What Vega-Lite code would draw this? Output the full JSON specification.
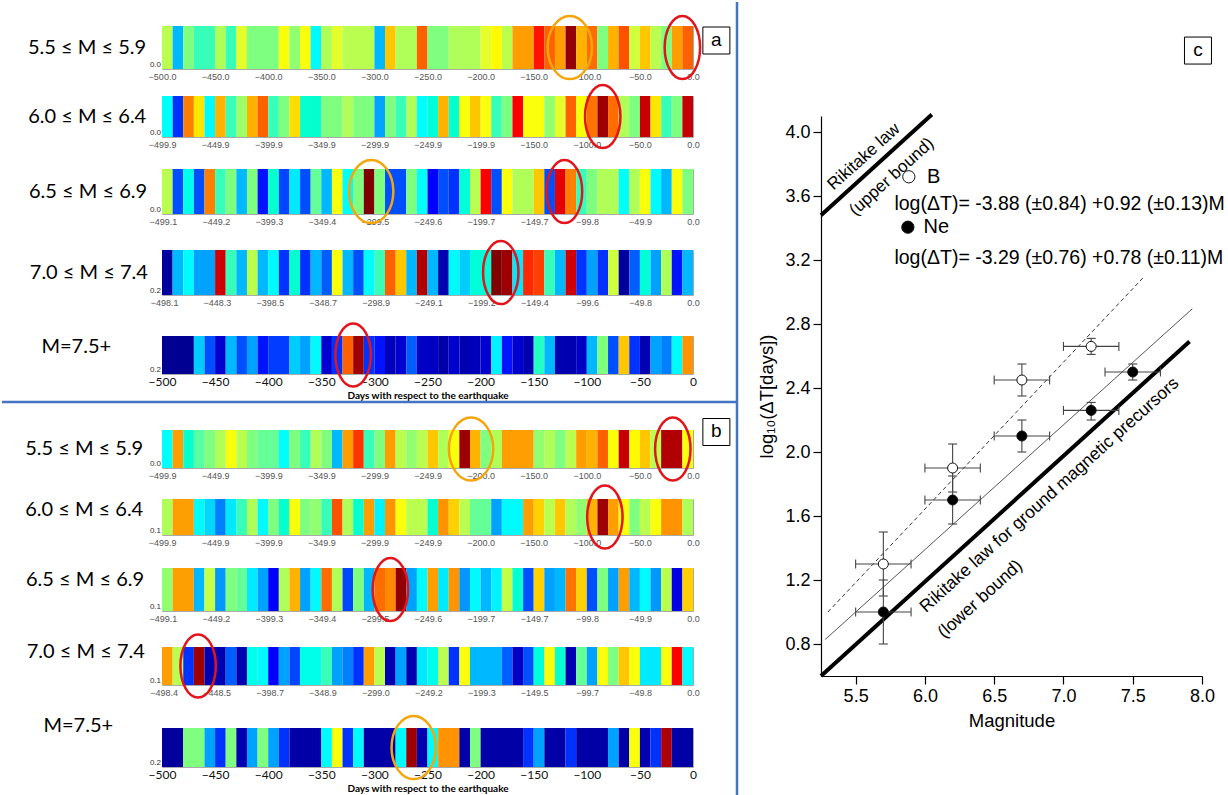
{
"$schema": "https://vega.github.io/schema/vega-lite/v6.json",
"padding": 0,
"autosize": {"type": "pad"},
"background": "white",
"config": {"view": {"stroke": null}, "font": "Liberation Sans", "axis": {"grid": false}},
"datasets": {
"one": [{}],
"cells": [
{"p":"a1","s":-500,"e":-490,"v":0.56},{"p":"a1","s":-490,"e":-480,"v":0.3},{"p":"a1","s":-480,"e":-470,"v":0.5},{"p":"a1","s":-470,"e":-450,"v":0.45},{"p":"a1","s":-450,"e":-440,"v":0.55},{"p":"a1","s":-440,"e":-430,"v":0.45},{"p":"a1","s":-430,"e":-420,"v":0.6},{"p":"a1","s":-420,"e":-390,"v":0.5},{"p":"a1","s":-390,"e":-380,"v":0.62},{"p":"a1","s":-380,"e":-370,"v":0.52},{"p":"a1","s":-370,"e":-360,"v":0.62},{"p":"a1","s":-360,"e":-350,"v":0.37},{"p":"a1","s":-350,"e":-340,"v":0.55},{"p":"a1","s":-340,"e":-330,"v":0.6},{"p":"a1","s":-330,"e":-300,"v":0.56},{"p":"a1","s":-300,"e":-290,"v":0.3},{"p":"a1","s":-290,"e":-280,"v":0.68},{"p":"a1","s":-280,"e":-260,"v":0.55},{"p":"a1","s":-260,"e":-250,"v":0.8},{"p":"a1","s":-250,"e":-230,"v":0.5},{"p":"a1","s":-230,"e":-200,"v":0.55},{"p":"a1","s":-200,"e":-190,"v":0.6},{"p":"a1","s":-190,"e":-180,"v":0.63},{"p":"a1","s":-180,"e":-170,"v":0.56},{"p":"a1","s":-170,"e":-150,"v":0.72},{"p":"a1","s":-150,"e":-140,"v":0.87},{"p":"a1","s":-140,"e":-130,"v":0.8},{"p":"a1","s":-130,"e":-120,"v":0.72},{"p":"a1","s":-120,"e":-110,"v":0.98},{"p":"a1","s":-110,"e":-100,"v":0.7},{"p":"a1","s":-100,"e":-90,"v":0.78},{"p":"a1","s":-90,"e":-80,"v":0.5},{"p":"a1","s":-80,"e":-70,"v":0.7},{"p":"a1","s":-70,"e":-60,"v":0.82},{"p":"a1","s":-60,"e":-50,"v":0.58},{"p":"a1","s":-50,"e":-40,"v":0.68},{"p":"a1","s":-40,"e":-30,"v":0.56},{"p":"a1","s":-30,"e":-20,"v":0.5},{"p":"a1","s":-20,"e":-10,"v":0.72},{"p":"a1","s":-10,"e":0,"v":0.8},
{"p":"a2","s":-500,"e":-490,"v":0.38},{"p":"a2","s":-490,"e":-480,"v":0.15},{"p":"a2","s":-480,"e":-470,"v":0.75},{"p":"a2","s":-470,"e":-460,"v":0.65},{"p":"a2","s":-460,"e":-450,"v":0.37},{"p":"a2","s":-450,"e":-440,"v":0.7},{"p":"a2","s":-440,"e":-430,"v":0.45},{"p":"a2","s":-430,"e":-420,"v":0.53},{"p":"a2","s":-420,"e":-410,"v":0.7},{"p":"a2","s":-410,"e":-400,"v":0.8},{"p":"a2","s":-400,"e":-390,"v":0.45},{"p":"a2","s":-390,"e":-380,"v":0.5},{"p":"a2","s":-380,"e":-370,"v":0.66},{"p":"a2","s":-370,"e":-350,"v":0.43},{"p":"a2","s":-350,"e":-330,"v":0.5},{"p":"a2","s":-330,"e":-320,"v":0.55},{"p":"a2","s":-320,"e":-300,"v":0.5},{"p":"a2","s":-300,"e":-290,"v":0.28},{"p":"a2","s":-290,"e":-280,"v":0.5},{"p":"a2","s":-280,"e":-270,"v":0.45},{"p":"a2","s":-270,"e":-260,"v":0.55},{"p":"a2","s":-260,"e":-250,"v":0.38},{"p":"a2","s":-250,"e":-240,"v":0.42},{"p":"a2","s":-240,"e":-230,"v":0.7},{"p":"a2","s":-230,"e":-220,"v":0.43},{"p":"a2","s":-220,"e":-210,"v":0.62},{"p":"a2","s":-210,"e":-200,"v":0.68},{"p":"a2","s":-200,"e":-190,"v":0.62},{"p":"a2","s":-190,"e":-180,"v":0.45},{"p":"a2","s":-180,"e":-170,"v":0.5},{"p":"a2","s":-170,"e":-160,"v":0.88},{"p":"a2","s":-160,"e":-140,"v":0.62},{"p":"a2","s":-140,"e":-130,"v":0.52},{"p":"a2","s":-130,"e":-120,"v":0.6},{"p":"a2","s":-120,"e":-110,"v":0.8},{"p":"a2","s":-110,"e":-100,"v":0.62},{"p":"a2","s":-100,"e":-90,"v":0.77},{"p":"a2","s":-90,"e":-80,"v":0.97},{"p":"a2","s":-80,"e":-70,"v":0.78},{"p":"a2","s":-70,"e":-60,"v":0.55},{"p":"a2","s":-60,"e":-50,"v":0.5},{"p":"a2","s":-50,"e":-40,"v":0.93},{"p":"a2","s":-40,"e":-30,"v":0.65},{"p":"a2","s":-30,"e":-20,"v":0.45},{"p":"a2","s":-20,"e":-10,"v":0.5},{"p":"a2","s":-10,"e":0,"v":0.93},
{"p":"a3","s":-500,"e":-490,"v":0.56},{"p":"a3","s":-490,"e":-480,"v":0.18},{"p":"a3","s":-480,"e":-470,"v":0.4},{"p":"a3","s":-470,"e":-460,"v":0.18},{"p":"a3","s":-460,"e":-450,"v":0.75},{"p":"a3","s":-450,"e":-440,"v":0.45},{"p":"a3","s":-440,"e":-430,"v":0.5},{"p":"a3","s":-430,"e":-420,"v":0.3},{"p":"a3","s":-420,"e":-410,"v":0.5},{"p":"a3","s":-410,"e":-400,"v":0.13},{"p":"a3","s":-400,"e":-390,"v":0.43},{"p":"a3","s":-390,"e":-380,"v":0.17},{"p":"a3","s":-380,"e":-370,"v":0.35},{"p":"a3","s":-370,"e":-360,"v":0.18},{"p":"a3","s":-360,"e":-350,"v":0.48},{"p":"a3","s":-350,"e":-340,"v":0.3},{"p":"a3","s":-340,"e":-330,"v":0.62},{"p":"a3","s":-330,"e":-320,"v":0.38},{"p":"a3","s":-320,"e":-310,"v":0.5},{"p":"a3","s":-310,"e":-300,"v":1},{"p":"a3","s":-300,"e":-290,"v":0.5},{"p":"a3","s":-290,"e":-270,"v":0.18},{"p":"a3","s":-270,"e":-260,"v":0.5},{"p":"a3","s":-260,"e":-250,"v":0.38},{"p":"a3","s":-250,"e":-240,"v":0.12},{"p":"a3","s":-240,"e":-230,"v":0.18},{"p":"a3","s":-230,"e":-220,"v":0.15},{"p":"a3","s":-220,"e":-210,"v":0.42},{"p":"a3","s":-210,"e":-200,"v":0.56},{"p":"a3","s":-200,"e":-190,"v":0.88},{"p":"a3","s":-190,"e":-180,"v":0.18},{"p":"a3","s":-180,"e":-170,"v":0.62},{"p":"a3","s":-170,"e":-150,"v":0.55},{"p":"a3","s":-150,"e":-140,"v":0.68},{"p":"a3","s":-140,"e":-130,"v":0.18},{"p":"a3","s":-130,"e":-120,"v":0.9},{"p":"a3","s":-120,"e":-110,"v":0.75},{"p":"a3","s":-110,"e":-100,"v":0.45},{"p":"a3","s":-100,"e":-90,"v":0.5},{"p":"a3","s":-90,"e":-70,"v":0.55},{"p":"a3","s":-70,"e":-60,"v":0.38},{"p":"a3","s":-60,"e":-50,"v":0.55},{"p":"a3","s":-50,"e":-40,"v":0.62},{"p":"a3","s":-40,"e":-30,"v":0.37},{"p":"a3","s":-30,"e":-20,"v":0.3},{"p":"a3","s":-20,"e":-10,"v":0.62},{"p":"a3","s":-10,"e":0,"v":0.5},
{"p":"a4","s":-500,"e":-490,"v":0.03},{"p":"a4","s":-490,"e":-480,"v":0.3},{"p":"a4","s":-480,"e":-470,"v":0.37},{"p":"a4","s":-470,"e":-450,"v":0.28},{"p":"a4","s":-450,"e":-440,"v":0.92},{"p":"a4","s":-440,"e":-430,"v":0.45},{"p":"a4","s":-430,"e":-420,"v":0.3},{"p":"a4","s":-420,"e":-410,"v":0.56},{"p":"a4","s":-410,"e":-400,"v":0.3},{"p":"a4","s":-400,"e":-390,"v":0.37},{"p":"a4","s":-390,"e":-380,"v":0.15},{"p":"a4","s":-380,"e":-370,"v":0.43},{"p":"a4","s":-370,"e":-360,"v":0.15},{"p":"a4","s":-360,"e":-350,"v":0.3},{"p":"a4","s":-350,"e":-340,"v":0.2},{"p":"a4","s":-340,"e":-330,"v":0.62},{"p":"a4","s":-330,"e":-320,"v":0.3},{"p":"a4","s":-320,"e":-310,"v":0.18},{"p":"a4","s":-310,"e":-300,"v":0.37},{"p":"a4","s":-300,"e":-290,"v":0.45},{"p":"a4","s":-290,"e":-280,"v":0.8},{"p":"a4","s":-280,"e":-270,"v":0.68},{"p":"a4","s":-270,"e":-260,"v":0.3},{"p":"a4","s":-260,"e":-250,"v":0.95},{"p":"a4","s":-250,"e":-240,"v":0.3},{"p":"a4","s":-240,"e":-230,"v":0.05},{"p":"a4","s":-230,"e":-220,"v":0.37},{"p":"a4","s":-220,"e":-210,"v":0.32},{"p":"a4","s":-210,"e":-190,"v":0.42},{"p":"a4","s":-190,"e":-180,"v":1},{"p":"a4","s":-180,"e":-170,"v":0.97},{"p":"a4","s":-170,"e":-160,"v":0.35},{"p":"a4","s":-160,"e":-150,"v":0.86},{"p":"a4","s":-150,"e":-140,"v":0.84},{"p":"a4","s":-140,"e":-130,"v":0.45},{"p":"a4","s":-130,"e":-120,"v":0.3},{"p":"a4","s":-120,"e":-110,"v":0.92},{"p":"a4","s":-110,"e":-100,"v":0.15},{"p":"a4","s":-100,"e":-90,"v":0.28},{"p":"a4","s":-90,"e":-80,"v":0.15},{"p":"a4","s":-80,"e":-70,"v":0.58},{"p":"a4","s":-70,"e":-60,"v":0.03},{"p":"a4","s":-60,"e":-50,"v":0.2},{"p":"a4","s":-50,"e":-40,"v":0.42},{"p":"a4","s":-40,"e":-30,"v":0.28},{"p":"a4","s":-30,"e":-20,"v":0.55},{"p":"a4","s":-20,"e":-10,"v":0.13},{"p":"a4","s":-10,"e":0,"v":0.3},
{"p":"a5","s":-500,"e":-470,"v":0.02},{"p":"a5","s":-470,"e":-460,"v":0.32},{"p":"a5","s":-460,"e":-450,"v":0.18},{"p":"a5","s":-450,"e":-440,"v":0.08},{"p":"a5","s":-440,"e":-430,"v":0.3},{"p":"a5","s":-430,"e":-420,"v":0.18},{"p":"a5","s":-420,"e":-410,"v":0.28},{"p":"a5","s":-410,"e":-400,"v":0.13},{"p":"a5","s":-400,"e":-380,"v":0.16},{"p":"a5","s":-380,"e":-370,"v":0.32},{"p":"a5","s":-370,"e":-360,"v":0.28},{"p":"a5","s":-360,"e":-350,"v":0.37},{"p":"a5","s":-350,"e":-340,"v":0.08},{"p":"a5","s":-340,"e":-330,"v":0.15},{"p":"a5","s":-330,"e":-320,"v":0.8},{"p":"a5","s":-320,"e":-310,"v":0.97},{"p":"a5","s":-310,"e":-300,"v":0.15},{"p":"a5","s":-300,"e":-290,"v":0.13},{"p":"a5","s":-290,"e":-280,"v":0.06},{"p":"a5","s":-280,"e":-270,"v":0.08},{"p":"a5","s":-270,"e":-260,"v":0.2},{"p":"a5","s":-260,"e":-240,"v":0.07},{"p":"a5","s":-240,"e":-230,"v":0.04},{"p":"a5","s":-230,"e":-220,"v":0.08},{"p":"a5","s":-220,"e":-210,"v":0.05},{"p":"a5","s":-210,"e":-200,"v":0.06},{"p":"a5","s":-200,"e":-190,"v":0.08},{"p":"a5","s":-190,"e":-180,"v":0.36},{"p":"a5","s":-180,"e":-170,"v":0.13},{"p":"a5","s":-170,"e":-160,"v":0.08},{"p":"a5","s":-160,"e":-150,"v":0.05},{"p":"a5","s":-150,"e":-140,"v":0.44},{"p":"a5","s":-140,"e":-130,"v":0.3},{"p":"a5","s":-130,"e":-110,"v":0.05},{"p":"a5","s":-110,"e":-100,"v":0.07},{"p":"a5","s":-100,"e":-90,"v":0.3},{"p":"a5","s":-90,"e":-80,"v":0.5},{"p":"a5","s":-80,"e":-70,"v":0.18},{"p":"a5","s":-70,"e":-60,"v":0.68},{"p":"a5","s":-60,"e":-50,"v":0.15},{"p":"a5","s":-50,"e":-40,"v":0.05},{"p":"a5","s":-40,"e":-30,"v":0.28},{"p":"a5","s":-30,"e":-20,"v":0.25},{"p":"a5","s":-20,"e":-10,"v":0.37},{"p":"a5","s":-10,"e":0,"v":0.73},
{"p":"b1","s":-500,"e":-490,"v":0.38},{"p":"b1","s":-490,"e":-480,"v":0.72},{"p":"b1","s":-480,"e":-470,"v":0.43},{"p":"b1","s":-470,"e":-460,"v":0.47},{"p":"b1","s":-460,"e":-450,"v":0.5},{"p":"b1","s":-450,"e":-440,"v":0.55},{"p":"b1","s":-440,"e":-430,"v":0.62},{"p":"b1","s":-430,"e":-420,"v":0.56},{"p":"b1","s":-420,"e":-410,"v":0.5},{"p":"b1","s":-410,"e":-390,"v":0.48},{"p":"b1","s":-390,"e":-380,"v":0.38},{"p":"b1","s":-380,"e":-370,"v":0.5},{"p":"b1","s":-370,"e":-360,"v":0.45},{"p":"b1","s":-360,"e":-350,"v":0.55},{"p":"b1","s":-350,"e":-340,"v":0.5},{"p":"b1","s":-340,"e":-330,"v":0.3},{"p":"b1","s":-330,"e":-320,"v":0.72},{"p":"b1","s":-320,"e":-310,"v":0.85},{"p":"b1","s":-310,"e":-300,"v":0.45},{"p":"b1","s":-300,"e":-290,"v":0.5},{"p":"b1","s":-290,"e":-280,"v":0.72},{"p":"b1","s":-280,"e":-270,"v":0.56},{"p":"b1","s":-270,"e":-260,"v":0.52},{"p":"b1","s":-260,"e":-250,"v":0.56},{"p":"b1","s":-250,"e":-240,"v":0.68},{"p":"b1","s":-240,"e":-230,"v":0.55},{"p":"b1","s":-230,"e":-220,"v":0.62},{"p":"b1","s":-220,"e":-210,"v":0.97},{"p":"b1","s":-210,"e":-200,"v":0.7},{"p":"b1","s":-200,"e":-190,"v":0.5},{"p":"b1","s":-190,"e":-180,"v":0.55},{"p":"b1","s":-180,"e":-150,"v":0.72},{"p":"b1","s":-150,"e":-140,"v":0.52},{"p":"b1","s":-140,"e":-130,"v":0.55},{"p":"b1","s":-130,"e":-120,"v":0.5},{"p":"b1","s":-120,"e":-110,"v":0.56},{"p":"b1","s":-110,"e":-100,"v":0.72},{"p":"b1","s":-100,"e":-90,"v":0.7},{"p":"b1","s":-90,"e":-80,"v":0.8},{"p":"b1","s":-80,"e":-70,"v":0.62},{"p":"b1","s":-70,"e":-60,"v":0.93},{"p":"b1","s":-60,"e":-50,"v":0.63},{"p":"b1","s":-50,"e":-40,"v":0.68},{"p":"b1","s":-40,"e":-30,"v":0.56},{"p":"b1","s":-30,"e":-10,"v":0.95},{"p":"b1","s":-10,"e":0,"v":0.62},
{"p":"b2","s":-500,"e":-490,"v":0.55},{"p":"b2","s":-490,"e":-470,"v":0.72},{"p":"b2","s":-470,"e":-460,"v":0.37},{"p":"b2","s":-460,"e":-450,"v":0.33},{"p":"b2","s":-450,"e":-440,"v":0.25},{"p":"b2","s":-440,"e":-430,"v":0.35},{"p":"b2","s":-430,"e":-420,"v":0.45},{"p":"b2","s":-420,"e":-410,"v":0.55},{"p":"b2","s":-410,"e":-400,"v":0.37},{"p":"b2","s":-400,"e":-390,"v":0.5},{"p":"b2","s":-390,"e":-380,"v":0.43},{"p":"b2","s":-380,"e":-370,"v":0.62},{"p":"b2","s":-370,"e":-360,"v":0.5},{"p":"b2","s":-360,"e":-350,"v":0.52},{"p":"b2","s":-350,"e":-340,"v":0.45},{"p":"b2","s":-340,"e":-330,"v":0.82},{"p":"b2","s":-330,"e":-320,"v":0.55},{"p":"b2","s":-320,"e":-310,"v":0.43},{"p":"b2","s":-310,"e":-300,"v":0.72},{"p":"b2","s":-300,"e":-290,"v":0.36},{"p":"b2","s":-290,"e":-280,"v":0.73},{"p":"b2","s":-280,"e":-270,"v":0.62},{"p":"b2","s":-270,"e":-250,"v":0.56},{"p":"b2","s":-250,"e":-240,"v":0.43},{"p":"b2","s":-240,"e":-230,"v":0.73},{"p":"b2","s":-230,"e":-220,"v":0.67},{"p":"b2","s":-220,"e":-210,"v":0.56},{"p":"b2","s":-210,"e":-190,"v":0.48},{"p":"b2","s":-190,"e":-180,"v":0.28},{"p":"b2","s":-180,"e":-160,"v":0.37},{"p":"b2","s":-160,"e":-150,"v":0.72},{"p":"b2","s":-150,"e":-140,"v":0.67},{"p":"b2","s":-140,"e":-130,"v":0.56},{"p":"b2","s":-130,"e":-120,"v":0.68},{"p":"b2","s":-120,"e":-110,"v":0.55},{"p":"b2","s":-110,"e":-100,"v":0.52},{"p":"b2","s":-100,"e":-90,"v":0.7},{"p":"b2","s":-90,"e":-80,"v":0.97},{"p":"b2","s":-80,"e":-70,"v":0.72},{"p":"b2","s":-70,"e":-60,"v":0.62},{"p":"b2","s":-60,"e":-50,"v":0.5},{"p":"b2","s":-50,"e":-40,"v":0.56},{"p":"b2","s":-40,"e":-30,"v":0.62},{"p":"b2","s":-30,"e":-10,"v":0.73},{"p":"b2","s":-10,"e":0,"v":0.55},
{"p":"b3","s":-500,"e":-490,"v":0.52},{"p":"b3","s":-490,"e":-470,"v":0.72},{"p":"b3","s":-470,"e":-460,"v":0.3},{"p":"b3","s":-460,"e":-450,"v":0.57},{"p":"b3","s":-450,"e":-440,"v":0.27},{"p":"b3","s":-440,"e":-430,"v":0.5},{"p":"b3","s":-430,"e":-420,"v":0.48},{"p":"b3","s":-420,"e":-410,"v":0.35},{"p":"b3","s":-410,"e":-400,"v":0.28},{"p":"b3","s":-400,"e":-390,"v":0.12},{"p":"b3","s":-390,"e":-380,"v":0.55},{"p":"b3","s":-380,"e":-370,"v":0.7},{"p":"b3","s":-370,"e":-360,"v":0.28},{"p":"b3","s":-360,"e":-350,"v":0.37},{"p":"b3","s":-350,"e":-340,"v":0.78},{"p":"b3","s":-340,"e":-330,"v":0.55},{"p":"b3","s":-330,"e":-320,"v":0.17},{"p":"b3","s":-320,"e":-310,"v":0.5},{"p":"b3","s":-310,"e":-300,"v":0.3},{"p":"b3","s":-300,"e":-290,"v":0.78},{"p":"b3","s":-290,"e":-280,"v":0.74},{"p":"b3","s":-280,"e":-270,"v":0.98},{"p":"b3","s":-270,"e":-260,"v":0.28},{"p":"b3","s":-260,"e":-250,"v":0.37},{"p":"b3","s":-250,"e":-240,"v":0.72},{"p":"b3","s":-240,"e":-230,"v":0.35},{"p":"b3","s":-230,"e":-220,"v":0.73},{"p":"b3","s":-220,"e":-210,"v":0.27},{"p":"b3","s":-210,"e":-200,"v":0.37},{"p":"b3","s":-200,"e":-190,"v":0.3},{"p":"b3","s":-190,"e":-180,"v":0.36},{"p":"b3","s":-180,"e":-170,"v":0.57},{"p":"b3","s":-170,"e":-160,"v":0.43},{"p":"b3","s":-160,"e":-150,"v":0.18},{"p":"b3","s":-150,"e":-140,"v":0.67},{"p":"b3","s":-140,"e":-130,"v":0.28},{"p":"b3","s":-130,"e":-120,"v":0.3},{"p":"b3","s":-120,"e":-110,"v":0.77},{"p":"b3","s":-110,"e":-100,"v":0.67},{"p":"b3","s":-100,"e":-90,"v":0.18},{"p":"b3","s":-90,"e":-80,"v":0.5},{"p":"b3","s":-80,"e":-70,"v":0.28},{"p":"b3","s":-70,"e":-60,"v":0.72},{"p":"b3","s":-60,"e":-50,"v":0.3},{"p":"b3","s":-50,"e":-40,"v":0.37},{"p":"b3","s":-40,"e":-30,"v":0.27},{"p":"b3","s":-30,"e":-20,"v":0.56},{"p":"b3","s":-20,"e":-10,"v":0.1},{"p":"b3","s":-10,"e":0,"v":0.67},
{"p":"b4","s":-500,"e":-490,"v":0.72},{"p":"b4","s":-490,"e":-480,"v":0.56},{"p":"b4","s":-480,"e":-470,"v":0.15},{"p":"b4","s":-470,"e":-460,"v":0.97},{"p":"b4","s":-460,"e":-440,"v":0.05},{"p":"b4","s":-440,"e":-430,"v":0.2},{"p":"b4","s":-430,"e":-420,"v":0.05},{"p":"b4","s":-420,"e":-410,"v":0.4},{"p":"b4","s":-410,"e":-400,"v":0.37},{"p":"b4","s":-400,"e":-390,"v":0.12},{"p":"b4","s":-390,"e":-380,"v":0.28},{"p":"b4","s":-380,"e":-370,"v":0.17},{"p":"b4","s":-370,"e":-350,"v":0.4},{"p":"b4","s":-350,"e":-340,"v":0.45},{"p":"b4","s":-340,"e":-330,"v":0.28},{"p":"b4","s":-330,"e":-320,"v":0.25},{"p":"b4","s":-320,"e":-310,"v":0.15},{"p":"b4","s":-310,"e":-300,"v":0.72},{"p":"b4","s":-300,"e":-290,"v":0.56},{"p":"b4","s":-290,"e":-280,"v":0.05},{"p":"b4","s":-280,"e":-270,"v":0.28},{"p":"b4","s":-270,"e":-260,"v":0.05},{"p":"b4","s":-260,"e":-250,"v":0.35},{"p":"b4","s":-250,"e":-240,"v":0.4},{"p":"b4","s":-240,"e":-230,"v":0.56},{"p":"b4","s":-230,"e":-220,"v":0.15},{"p":"b4","s":-220,"e":-210,"v":0.62},{"p":"b4","s":-210,"e":-180,"v":0.3},{"p":"b4","s":-180,"e":-170,"v":0.2},{"p":"b4","s":-170,"e":-160,"v":0.07},{"p":"b4","s":-160,"e":-150,"v":0.18},{"p":"b4","s":-150,"e":-140,"v":0.42},{"p":"b4","s":-140,"e":-130,"v":0.62},{"p":"b4","s":-130,"e":-120,"v":0.43},{"p":"b4","s":-120,"e":-110,"v":0.05},{"p":"b4","s":-110,"e":-100,"v":0.48},{"p":"b4","s":-100,"e":-90,"v":0.28},{"p":"b4","s":-90,"e":-80,"v":0.62},{"p":"b4","s":-80,"e":-70,"v":0.5},{"p":"b4","s":-70,"e":-60,"v":0.68},{"p":"b4","s":-60,"e":-50,"v":0.62},{"p":"b4","s":-50,"e":-30,"v":0.35},{"p":"b4","s":-30,"e":-20,"v":0.62},{"p":"b4","s":-20,"e":-10,"v":0.88},{"p":"b4","s":-10,"e":0,"v":0.37},
{"p":"b5","s":-500,"e":-480,"v":0.03},{"p":"b5","s":-480,"e":-460,"v":0.5},{"p":"b5","s":-460,"e":-450,"v":0.28},{"p":"b5","s":-450,"e":-440,"v":0.15},{"p":"b5","s":-440,"e":-430,"v":0.5},{"p":"b5","s":-430,"e":-420,"v":0.05},{"p":"b5","s":-420,"e":-410,"v":0.28},{"p":"b5","s":-410,"e":-400,"v":0.5},{"p":"b5","s":-400,"e":-390,"v":0.28},{"p":"b5","s":-390,"e":-380,"v":0.15},{"p":"b5","s":-380,"e":-350,"v":0.04},{"p":"b5","s":-350,"e":-340,"v":0.37},{"p":"b5","s":-340,"e":-330,"v":0.62},{"p":"b5","s":-330,"e":-320,"v":0.15},{"p":"b5","s":-320,"e":-310,"v":0.37},{"p":"b5","s":-310,"e":-280,"v":0.04},{"p":"b5","s":-280,"e":-270,"v":0.37},{"p":"b5","s":-270,"e":-260,"v":0.97},{"p":"b5","s":-260,"e":-250,"v":0.05},{"p":"b5","s":-250,"e":-240,"v":0.37},{"p":"b5","s":-240,"e":-220,"v":0.73},{"p":"b5","s":-220,"e":-210,"v":0.04},{"p":"b5","s":-210,"e":-200,"v":0.5},{"p":"b5","s":-200,"e":-160,"v":0.04},{"p":"b5","s":-160,"e":-150,"v":0.15},{"p":"b5","s":-150,"e":-140,"v":0.28},{"p":"b5","s":-140,"e":-120,"v":0.04},{"p":"b5","s":-120,"e":-110,"v":0.15},{"p":"b5","s":-110,"e":-80,"v":0.04},{"p":"b5","s":-80,"e":-70,"v":0.28},{"p":"b5","s":-70,"e":-60,"v":0.04},{"p":"b5","s":-60,"e":-50,"v":0.62},{"p":"b5","s":-50,"e":-40,"v":0.05},{"p":"b5","s":-40,"e":-30,"v":0.15},{"p":"b5","s":-30,"e":-20,"v":0.95},{"p":"b5","s":-20,"e":0,"v":0.04}
],
"rings": [
{"p":"a1","d":-116,"ring":"orange"},{"p":"a1","d":-10,"ring":"red"},{"p":"a2","d":-85,"ring":"red"},{"p":"a3","d":-303,"ring":"orange"},{"p":"a3","d":-121,"ring":"red"},{"p":"a4","d":-181,"ring":"red"},{"p":"a5","d":-320,"ring":"red"},{"p":"b1","d":-209,"ring":"orange"},{"p":"b1","d":-19,"ring":"red"},{"p":"b2","d":-83,"ring":"red"},{"p":"b3","d":-285,"ring":"red"},{"p":"b4","d":-466,"ring":"red"},{"p":"b5","d":-263,"ring":"orange"}
],
"pts": [
{"s":"B","M":5.7,"y":1.3,"xl":5.5,"xh":5.9,"yl":1.1,"yh":1.5},
{"s":"B","M":6.2,"y":1.9,"xl":6.0,"xh":6.4,"yl":1.75,"yh":2.05},
{"s":"B","M":6.7,"y":2.45,"xl":6.5,"xh":6.9,"yl":2.35,"yh":2.55},
{"s":"B","M":7.2,"y":2.66,"xl":7.0,"xh":7.4,"yl":2.61,"yh":2.71},
{"s":"Ne","M":5.7,"y":1.0,"xl":5.5,"xh":5.9,"yl":0.8,"yh":1.2},
{"s":"Ne","M":6.2,"y":1.7,"xl":6.0,"xh":6.4,"yl":1.55,"yh":1.85},
{"s":"Ne","M":6.7,"y":2.1,"xl":6.5,"xh":6.9,"yl":2.0,"yh":2.2},
{"s":"Ne","M":7.2,"y":2.26,"xl":7.0,"xh":7.4,"yl":2.2,"yh":2.31},
{"s":"Ne","M":7.5,"y":2.5,"xl":7.3,"xh":7.7,"yl":2.45,"yh":2.55}
],
"fits": [
{"g":"B","M":5.3,"y":1.0},{"g":"B","M":7.58,"y":3.094},
{"g":"Ne","M":5.28,"y":0.828},{"g":"Ne","M":7.93,"y":2.895},
{"g":"upper","M":5.25,"y":3.48},{"g":"upper","M":6.05,"y":4.11},
{"g":"lower","M":5.25,"y":0.6},{"g":"lower","M":7.91,"y":2.69}
]
},
"hconcat": [
{
"vconcat": [
{"width": 531, "height": 43, "view": {"stroke": "#aaaaaa"},
 "title": {"text": "5.5 ≤ M ≤ 5.9", "orient": "left", "angle": 0, "align": "left", "baseline": "middle", "anchor": "middle", "frame": "group", "offset": 2, "fontSize": 20, "font": "Lato", "fontWeight": "normal", "color": "black"},
 "layer": [
  {"data": {"name": "cells"}, "transform": [{"filter": "datum.p == 'a1'"}], "mark": {"type": "rect"},
   "encoding": {"x": {"field": "s", "type": "quantitative", "scale": {"domain": [-500, 0], "nice": false, "zero": false},
     "axis": {"values": [-500,-450,-400,-350,-300,-250,-200,-150,-100,-50,0], "format": ".1f", "title": null, "labelFontSize": 9, "labelColor": "#555", "ticks": false, "domain": false, "labelPadding": 3, "labelFlush": false, "labelOverlap": false}},
    "x2": {"field": "e"},
    "color": {"field": "v", "type": "quantitative", "scale": {"type": "linear", "domain": [0,0.125,0.25,0.375,0.5,0.625,0.75,0.875,1], "range": ["#00007f","#0000ff","#007fff","#00ffff","#7fff7f","#ffff00","#ff7f00","#ff0000","#7f0000"]}, "legend": null}}},
  {"data": {"name": "rings"}, "transform": [{"filter": "datum.p == 'a1'"}], "mark": {"type": "point", "filled": false, "size": 4000, "strokeWidth": 2.5, "opacity": 1},
   "encoding": {"x": {"field": "d", "type": "quantitative"},
    "shape": {"field": "ring", "type": "nominal", "scale": {"domain": ["orange","red"], "range": ["M0,-1A0.7,1,0,1,1,0,1A0.7,1,0,1,1,0,-1Z","M0,-1A0.56,1,0,1,1,0,1A0.56,1,0,1,1,0,-1Z"]}, "legend": null},
    "stroke": {"field": "ring", "type": "nominal", "scale": {"domain": ["orange","red"], "range": ["#F5A50A","#E3141C"]}, "legend": null}}},
  {"data": {"name": "one"}, "mark": {"type": "text", "text": "0.0", "fontSize": 8, "align": "right", "baseline": "bottom", "dx": -1, "yOffset": 21.5, "color": "#333333"}, "encoding": {"x": {"datum": -500}}},
  {"data": {"name": "one"}, "mark": {"type": "square", "size": 729, "fill": "white", "stroke": "black", "strokeWidth": 1, "opacity": 1, "yOffset": -7}, "encoding": {"x": {"datum": 22}}},
  {"data": {"name": "one"}, "mark": {"type": "text", "text": "a", "fontSize": 19, "color": "black", "yOffset": -8}, "encoding": {"x": {"datum": 22}}}
 ]},
{"width": 531, "height": 27, "data": {"name": "one"}, "mark": {"type": "text"}, "encoding": {}},
{"width": 531, "height": 41, "view": {"stroke": "#aaaaaa"},
 "title": {"text": "6.0 ≤ M ≤ 6.4", "orient": "left", "angle": 0, "align": "left", "baseline": "middle", "anchor": "middle", "frame": "group", "offset": 2, "fontSize": 20, "font": "Lato", "fontWeight": "normal", "color": "black"},
 "layer": [
  {"data": {"name": "cells"}, "transform": [{"filter": "datum.p == 'a2'"}], "mark": {"type": "rect"},
   "encoding": {"x": {"field": "s", "type": "quantitative", "scale": {"domain": [-500, 0], "nice": false, "zero": false},
     "axis": {"values": [-499.9,-449.9,-399.9,-349.9,-299.9,-249.9,-199.9,-150,-100,-50,0], "format": ".1f", "title": null, "labelFontSize": 9, "labelColor": "#555", "ticks": false, "domain": false, "labelPadding": 3, "labelFlush": false, "labelOverlap": false}},
    "x2": {"field": "e"},
    "color": {"field": "v", "type": "quantitative", "legend": null}}},
  {"data": {"name": "rings"}, "transform": [{"filter": "datum.p == 'a2'"}], "mark": {"type": "point", "filled": false, "size": 4000, "strokeWidth": 2.5, "opacity": 1},
   "encoding": {"x": {"field": "d", "type": "quantitative"}, "shape": {"field": "ring", "type": "nominal", "legend": null}, "stroke": {"field": "ring", "type": "nominal", "legend": null}}},
  {"data": {"name": "one"}, "mark": {"type": "text", "text": "0.0", "fontSize": 8, "align": "right", "baseline": "bottom", "dx": -1, "yOffset": 20.5, "color": "#333333"}, "encoding": {"x": {"datum": -500}}}
 ]},
{"width": 531, "height": 32, "data": {"name": "one"}, "mark": {"type": "text"}, "encoding": {}},
{"width": 531, "height": 45, "view": {"stroke": "#aaaaaa"},
 "title": {"text": "6.5 ≤ M ≤ 6.9", "orient": "left", "angle": 0, "align": "left", "baseline": "middle", "anchor": "middle", "frame": "group", "offset": 2, "fontSize": 20, "font": "Lato", "fontWeight": "normal", "color": "black"},
 "layer": [
  {"data": {"name": "cells"}, "transform": [{"filter": "datum.p == 'a3'"}], "mark": {"type": "rect"},
   "encoding": {"x": {"field": "s", "type": "quantitative", "scale": {"domain": [-500, 0], "nice": false, "zero": false},
     "axis": {"values": [-499.1,-449.2,-399.3,-349.4,-299.5,-249.6,-199.7,-149.7,-99.8,-49.9,0], "format": ".1f", "title": null, "labelFontSize": 9, "labelColor": "#555", "ticks": false, "domain": false, "labelPadding": 3, "labelFlush": false, "labelOverlap": false}},
    "x2": {"field": "e"},
    "color": {"field": "v", "type": "quantitative", "legend": null}}},
  {"data": {"name": "rings"}, "transform": [{"filter": "datum.p == 'a3'"}], "mark": {"type": "point", "filled": false, "size": 4000, "strokeWidth": 2.5, "opacity": 1},
   "encoding": {"x": {"field": "d", "type": "quantitative"}, "shape": {"field": "ring", "type": "nominal", "legend": null}, "stroke": {"field": "ring", "type": "nominal", "legend": null}}},
  {"data": {"name": "one"}, "mark": {"type": "text", "text": "0.0", "fontSize": 8, "align": "right", "baseline": "bottom", "dx": -1, "yOffset": 22.5, "color": "#333333"}, "encoding": {"x": {"datum": -500}}}
 ]},
{"width": 531, "height": 36, "data": {"name": "one"}, "mark": {"type": "text"}, "encoding": {}},
{"width": 531, "height": 45, "view": {"stroke": "#aaaaaa"},
 "title": {"text": "7.0 ≤ M ≤ 7.4", "orient": "left", "angle": 0, "align": "left", "baseline": "middle", "anchor": "middle", "frame": "group", "offset": 2, "fontSize": 20, "font": "Lato", "fontWeight": "normal", "color": "black"},
 "layer": [
  {"data": {"name": "cells"}, "transform": [{"filter": "datum.p == 'a4'"}], "mark": {"type": "rect"},
   "encoding": {"x": {"field": "s", "type": "quantitative", "scale": {"domain": [-500, 0], "nice": false, "zero": false},
     "axis": {"values": [-498.1,-448.3,-398.5,-348.7,-298.9,-249.1,-199.2,-149.4,-99.6,-49.8,0], "format": ".1f", "title": null, "labelFontSize": 9, "labelColor": "#555", "ticks": false, "domain": false, "labelPadding": 3, "labelFlush": false, "labelOverlap": false}},
    "x2": {"field": "e"},
    "color": {"field": "v", "type": "quantitative", "legend": null}}},
  {"data": {"name": "rings"}, "transform": [{"filter": "datum.p == 'a4'"}], "mark": {"type": "point", "filled": false, "size": 4000, "strokeWidth": 2.5, "opacity": 1},
   "encoding": {"x": {"field": "d", "type": "quantitative"}, "shape": {"field": "ring", "type": "nominal", "legend": null}, "stroke": {"field": "ring", "type": "nominal", "legend": null}}},
  {"data": {"name": "one"}, "mark": {"type": "text", "text": "0.2", "fontSize": 8, "align": "right", "baseline": "bottom", "dx": -1, "yOffset": 22.5, "color": "#333333"}, "encoding": {"x": {"datum": -500}}}
 ]},
{"width": 531, "height": 41, "data": {"name": "one"}, "mark": {"type": "text"}, "encoding": {}},
{"width": 531, "height": 38, "view": {"stroke": "#aaaaaa"},
 "title": {"text": "M=7.5+", "orient": "left", "angle": 0, "align": "left", "baseline": "middle", "anchor": "middle", "frame": "group", "offset": 37, "dy": -8, "fontSize": 20, "font": "Lato", "fontWeight": "normal", "color": "black"},
 "layer": [
  {"data": {"name": "cells"}, "transform": [{"filter": "datum.p == 'a5'"}], "mark": {"type": "rect"},
   "encoding": {"x": {"field": "s", "type": "quantitative", "scale": {"domain": [-500, 0], "nice": false, "zero": false},
     "axis": {"values": [-500,-450,-400,-350,-300,-250,-200,-150,-100,-50,0], "format": "d", "title": "Days with respect to the earthquake", "titleFont": "Lato", "titleFontSize": 10, "titleFontWeight": "bold", "titleColor": "black", "titlePadding": 3, "labelFont": "Lato", "labelFontSize": 12, "labelColor": "#111", "ticks": false, "domain": false, "labelPadding": 2, "labelFlush": false, "labelOverlap": false}},
    "x2": {"field": "e"},
    "color": {"field": "v", "type": "quantitative", "legend": null}}},
  {"data": {"name": "rings"}, "transform": [{"filter": "datum.p == 'a5'"}], "mark": {"type": "point", "filled": false, "size": 4000, "strokeWidth": 2.5, "opacity": 1},
   "encoding": {"x": {"field": "d", "type": "quantitative"}, "shape": {"field": "ring", "type": "nominal", "legend": null}, "stroke": {"field": "ring", "type": "nominal", "legend": null}}},
  {"data": {"name": "one"}, "mark": {"type": "text", "text": "0.2", "fontSize": 8, "align": "right", "baseline": "bottom", "dx": -1, "yOffset": 19, "color": "#333333"}, "encoding": {"x": {"datum": -500}}}
 ]},
{"width": 531, "height": 56, "data": {"name": "one"}, "mark": {"type": "text"}, "encoding": {}},
{"width": 531, "height": 38, "view": {"stroke": "#aaaaaa"},
 "title": {"text": "5.5 ≤ M ≤ 5.9", "orient": "left", "angle": 0, "align": "left", "baseline": "middle", "anchor": "middle", "frame": "group", "offset": 5, "fontSize": 20, "font": "Lato", "fontWeight": "normal", "color": "black"},
 "layer": [
  {"data": {"name": "cells"}, "transform": [{"filter": "datum.p == 'b1'"}], "mark": {"type": "rect"},
   "encoding": {"x": {"field": "s", "type": "quantitative", "scale": {"domain": [-500, 0], "nice": false, "zero": false},
     "axis": {"values": [-499.9,-449.9,-399.9,-349.9,-299.9,-249.9,-200,-150,-100,-50,0], "format": ".1f", "title": null, "labelFontSize": 9, "labelColor": "#555", "ticks": false, "domain": false, "labelPadding": 3, "labelFlush": false, "labelOverlap": false}},
    "x2": {"field": "e"},
    "color": {"field": "v", "type": "quantitative", "legend": null}}},
  {"data": {"name": "rings"}, "transform": [{"filter": "datum.p == 'b1'"}], "mark": {"type": "point", "filled": false, "size": 4000, "strokeWidth": 2.5, "opacity": 1},
   "encoding": {"x": {"field": "d", "type": "quantitative"}, "shape": {"field": "ring", "type": "nominal", "legend": null}, "stroke": {"field": "ring", "type": "nominal", "legend": null}}},
  {"data": {"name": "one"}, "mark": {"type": "text", "text": "0.0", "fontSize": 8, "align": "right", "baseline": "bottom", "dx": -1, "yOffset": 19, "color": "#333333"}, "encoding": {"x": {"datum": -500}}},
  {"data": {"name": "one"}, "mark": {"type": "square", "size": 729, "fill": "white", "stroke": "black", "strokeWidth": 1, "opacity": 1, "yOffset": -17}, "encoding": {"x": {"datum": 22}}},
  {"data": {"name": "one"}, "mark": {"type": "text", "text": "b", "fontSize": 19, "color": "black", "yOffset": -18}, "encoding": {"x": {"datum": 22}}}
 ]},
{"width": 531, "height": 31, "data": {"name": "one"}, "mark": {"type": "text"}, "encoding": {}},
{"width": 531, "height": 36, "view": {"stroke": "#aaaaaa"},
 "title": {"text": "6.0 ≤ M ≤ 6.4", "orient": "left", "angle": 0, "align": "left", "baseline": "middle", "anchor": "middle", "frame": "group", "offset": 5, "dy": -7, "fontSize": 20, "font": "Lato", "fontWeight": "normal", "color": "black"},
 "layer": [
  {"data": {"name": "cells"}, "transform": [{"filter": "datum.p == 'b2'"}], "mark": {"type": "rect"},
   "encoding": {"x": {"field": "s", "type": "quantitative", "scale": {"domain": [-500, 0], "nice": false, "zero": false},
     "axis": {"values": [-499.9,-449.9,-399.9,-349.9,-299.9,-249.9,-200,-150,-100,-50,0], "format": ".1f", "title": null, "labelFontSize": 9, "labelColor": "#555", "ticks": false, "domain": false, "labelPadding": 3, "labelFlush": false, "labelOverlap": false}},
    "x2": {"field": "e"},
    "color": {"field": "v", "type": "quantitative", "legend": null}}},
  {"data": {"name": "rings"}, "transform": [{"filter": "datum.p == 'b2'"}], "mark": {"type": "point", "filled": false, "size": 4000, "strokeWidth": 2.5, "opacity": 1},
   "encoding": {"x": {"field": "d", "type": "quantitative"}, "shape": {"field": "ring", "type": "nominal", "legend": null}, "stroke": {"field": "ring", "type": "nominal", "legend": null}}},
  {"data": {"name": "one"}, "mark": {"type": "text", "text": "0.1", "fontSize": 8, "align": "right", "baseline": "bottom", "dx": -1, "yOffset": 18, "color": "#333333"}, "encoding": {"x": {"datum": -500}}}
 ]},
{"width": 531, "height": 33, "data": {"name": "one"}, "mark": {"type": "text"}, "encoding": {}},
{"width": 531, "height": 43, "view": {"stroke": "#aaaaaa"},
 "title": {"text": "6.5 ≤ M ≤ 6.9", "orient": "left", "angle": 0, "align": "left", "baseline": "middle", "anchor": "middle", "frame": "group", "offset": 5, "dy": -10, "fontSize": 20, "font": "Lato", "fontWeight": "normal", "color": "black"},
 "layer": [
  {"data": {"name": "cells"}, "transform": [{"filter": "datum.p == 'b3'"}], "mark": {"type": "rect"},
   "encoding": {"x": {"field": "s", "type": "quantitative", "scale": {"domain": [-500, 0], "nice": false, "zero": false},
     "axis": {"values": [-499.1,-449.2,-399.3,-349.4,-299.5,-249.6,-199.7,-149.7,-99.8,-49.9,0], "format": ".1f", "title": null, "labelFontSize": 9, "labelColor": "#555", "ticks": false, "domain": false, "labelPadding": 3, "labelFlush": false, "labelOverlap": false}},
    "x2": {"field": "e"},
    "color": {"field": "v", "type": "quantitative", "legend": null}}},
  {"data": {"name": "rings"}, "transform": [{"filter": "datum.p == 'b3'"}], "mark": {"type": "point", "filled": false, "size": 4000, "strokeWidth": 2.5, "opacity": 1},
   "encoding": {"x": {"field": "d", "type": "quantitative"}, "shape": {"field": "ring", "type": "nominal", "legend": null}, "stroke": {"field": "ring", "type": "nominal", "legend": null}}},
  {"data": {"name": "one"}, "mark": {"type": "text", "text": "0.1", "fontSize": 8, "align": "right", "baseline": "bottom", "dx": -1, "yOffset": 21.5, "color": "#333333"}, "encoding": {"x": {"datum": -500}}}
 ]},
{"width": 531, "height": 36, "data": {"name": "one"}, "mark": {"type": "text"}, "encoding": {}},
{"width": 531, "height": 38, "view": {"stroke": "#aaaaaa"},
 "title": {"text": "7.0 ≤ M ≤ 7.4", "orient": "left", "angle": 0, "align": "left", "baseline": "middle", "anchor": "middle", "frame": "group", "offset": 5, "dy": -14, "fontSize": 20, "font": "Lato", "fontWeight": "normal", "color": "black"},
 "layer": [
  {"data": {"name": "cells"}, "transform": [{"filter": "datum.p == 'b4'"}], "mark": {"type": "rect"},
   "encoding": {"x": {"field": "s", "type": "quantitative", "scale": {"domain": [-500, 0], "nice": false, "zero": false},
     "axis": {"values": [-498.4,-448.5,-398.7,-348.9,-299,-249.2,-199.3,-149.5,-99.7,-49.8,0], "format": ".1f", "title": null, "labelFontSize": 9, "labelColor": "#555", "ticks": false, "domain": false, "labelPadding": 3, "labelFlush": false, "labelOverlap": false}},
    "x2": {"field": "e"},
    "color": {"field": "v", "type": "quantitative", "legend": null}}},
  {"data": {"name": "rings"}, "transform": [{"filter": "datum.p == 'b4'"}], "mark": {"type": "point", "filled": false, "size": 4000, "strokeWidth": 2.5, "opacity": 1},
   "encoding": {"x": {"field": "d", "type": "quantitative"}, "shape": {"field": "ring", "type": "nominal", "legend": null}, "stroke": {"field": "ring", "type": "nominal", "legend": null}}},
  {"data": {"name": "one"}, "mark": {"type": "text", "text": "0.1", "fontSize": 8, "align": "right", "baseline": "bottom", "dx": -1, "yOffset": 19, "color": "#333333"}, "encoding": {"x": {"datum": -500}}}
 ]},
{"width": 531, "height": 43, "data": {"name": "one"}, "mark": {"type": "text"}, "encoding": {}},
{"width": 531, "height": 39, "view": {"stroke": "#aaaaaa"},
 "title": {"text": "M=7.5+", "orient": "left", "angle": 0, "align": "left", "baseline": "middle", "anchor": "middle", "frame": "group", "offset": 35, "dy": -22, "fontSize": 20, "font": "Lato", "fontWeight": "normal", "color": "black"},
 "layer": [
  {"data": {"name": "cells"}, "transform": [{"filter": "datum.p == 'b5'"}], "mark": {"type": "rect"},
   "encoding": {"x": {"field": "s", "type": "quantitative", "scale": {"domain": [-500, 0], "nice": false, "zero": false},
     "axis": {"values": [-500,-450,-400,-350,-300,-250,-200,-150,-100,-50,0], "format": "d", "title": "Days with respect to the earthquake", "titleFont": "Lato", "titleFontSize": 10, "titleFontWeight": "bold", "titleColor": "black", "titlePadding": 3, "labelFont": "Lato", "labelFontSize": 12, "labelColor": "#111", "ticks": false, "domain": false, "labelPadding": 2, "labelFlush": false, "labelOverlap": false}},
    "x2": {"field": "e"},
    "color": {"field": "v", "type": "quantitative", "legend": null}}},
  {"data": {"name": "rings"}, "transform": [{"filter": "datum.p == 'b5'"}], "mark": {"type": "point", "filled": false, "size": 4000, "strokeWidth": 2.5, "opacity": 1},
   "encoding": {"x": {"field": "d", "type": "quantitative"}, "shape": {"field": "ring", "type": "nominal", "legend": null}, "stroke": {"field": "ring", "type": "nominal", "legend": null}}},
  {"data": {"name": "one"}, "mark": {"type": "text", "text": "0.2", "fontSize": 8, "align": "right", "baseline": "bottom", "dx": -1, "yOffset": 19.5, "color": "#333333"}, "encoding": {"x": {"datum": -500}}}
 ]}
],
"spacing": 0, "bounds": "flush"
},
{
"vconcat": [
{"width": 381, "height": 90, "data": {"name": "one"}, "mark": {"type": "text"}, "encoding": {}},
{"width": 381, "height": 560,
 "layer": [
  {"data": {"name": "fits"}, "transform": [{"filter": "datum.g == 'B'"}], "mark": {"type": "line", "strokeDash": [4, 3], "strokeWidth": 1, "color": "#333333"},
   "encoding": {
    "x": {"field": "M", "type": "quantitative", "scale": {"domain": [5.25, 8.0], "nice": false, "zero": false},
     "axis": {"values": [5.5,5.75,6,6.25,6.5,6.75,7,7.25,7.5,7.75,8], "labelExpr": "round(datum.value*100) % 50 == 0 ? format(datum.value, '.1f') : ''", "tickSize": {"condition": {"test": "round(datum.value*100) % 50 == 0", "value": 8}, "value": 4}, "title": "Magnitude", "titleFontSize": 18.5, "titleFontWeight": "normal", "titleColor": "black", "titlePadding": 6, "labelFontSize": 18, "labelColor": "black", "labelPadding": 3, "domainColor": "black", "domainWidth": 1.2, "tickColor": "black", "tickWidth": 1.2, "labelFlush": false, "labelOverlap": false}},
    "y": {"field": "y", "type": "quantitative", "scale": {"domain": [0.6, 4.1], "nice": false, "zero": false},
     "axis": {"values": [0.8,1,1.2,1.4,1.6,1.8,2,2.2,2.4,2.6,2.8,3,3.2,3.4,3.6,3.8,4], "labelExpr": "round(datum.value*10) % 4 == 0 ? format(datum.value, '.1f') : ''", "tickSize": {"condition": {"test": "round(datum.value*10) % 4 == 0", "value": 8}, "value": 4}, "title": "log₁₀(ΔT[days])", "titleFontSize": 18.5, "titleFontWeight": "normal", "titleColor": "black", "titlePadding": 8, "labelFontSize": 18, "labelColor": "black", "labelPadding": 3, "domainColor": "black", "domainWidth": 1.2, "tickColor": "black", "tickWidth": 1.2, "labelFlush": false, "labelOverlap": false}}}},
  {"data": {"name": "fits"}, "transform": [{"filter": "datum.g == 'Ne'"}], "mark": {"type": "line", "strokeWidth": 0.9, "color": "#444444"},
   "encoding": {"x": {"field": "M", "type": "quantitative"}, "y": {"field": "y", "type": "quantitative"}}},
  {"data": {"name": "fits"}, "transform": [{"filter": "datum.g == 'upper' || datum.g == 'lower'"}], "mark": {"type": "line", "strokeWidth": 4, "color": "black", "clip": false},
   "encoding": {"x": {"field": "M", "type": "quantitative"}, "y": {"field": "y", "type": "quantitative"}, "detail": {"field": "g"}}},
  {"data": {"name": "pts"}, "mark": {"type": "rule", "color": "#444444", "strokeWidth": 1.1},
   "encoding": {"x": {"field": "xl", "type": "quantitative"}, "x2": {"field": "xh"}, "y": {"field": "y", "type": "quantitative"}}},
  {"data": {"name": "pts"}, "mark": {"type": "rule", "color": "#444444", "strokeWidth": 1.1},
   "encoding": {"x": {"field": "M", "type": "quantitative"}, "y": {"field": "yl", "type": "quantitative"}, "y2": {"field": "yh"}}},
  {"data": {"name": "pts"}, "mark": {"type": "tick", "orient": "vertical", "size": 9, "thickness": 1.1, "color": "#444444", "opacity": 1},
   "encoding": {"x": {"field": "xl", "type": "quantitative"}, "y": {"field": "y", "type": "quantitative"}}},
  {"data": {"name": "pts"}, "mark": {"type": "tick", "orient": "vertical", "size": 9, "thickness": 1.1, "color": "#444444", "opacity": 1},
   "encoding": {"x": {"field": "xh", "type": "quantitative"}, "y": {"field": "y", "type": "quantitative"}}},
  {"data": {"name": "pts"}, "mark": {"type": "tick", "orient": "horizontal", "size": 9, "thickness": 1.1, "color": "#444444", "opacity": 1},
   "encoding": {"x": {"field": "M", "type": "quantitative"}, "y": {"field": "yl", "type": "quantitative"}}},
  {"data": {"name": "pts"}, "mark": {"type": "tick", "orient": "horizontal", "size": 9, "thickness": 1.1, "color": "#444444", "opacity": 1},
   "encoding": {"x": {"field": "M", "type": "quantitative"}, "y": {"field": "yh", "type": "quantitative"}}},
  {"data": {"name": "pts"}, "mark": {"type": "point", "filled": true, "size": 100, "stroke": "#111111", "strokeWidth": 1, "opacity": 1},
   "encoding": {"x": {"field": "M", "type": "quantitative"}, "y": {"field": "y", "type": "quantitative"},
    "fill": {"field": "s", "type": "nominal", "scale": {"domain": ["B", "Ne"], "range": ["white", "black"]}, "legend": null}}},
  {"data": {"name": "one"}, "mark": {"type": "point", "filled": true, "fill": "white", "stroke": "#111111", "strokeWidth": 1, "size": 150, "opacity": 1},
   "encoding": {"x": {"datum": 5.884}, "y": {"datum": 3.72}}},
  {"data": {"name": "one"}, "mark": {"type": "point", "filled": true, "fill": "black", "stroke": "#111111", "strokeWidth": 1, "size": 150, "opacity": 1},
   "encoding": {"x": {"datum": 5.877}, "y": {"datum": 3.405}}},
  {"data": {"name": "one"}, "mark": {"type": "text", "text": "B", "fontSize": 20, "align": "left", "baseline": "middle", "color": "black"},
   "encoding": {"x": {"datum": 6.015}, "y": {"datum": 3.72}}},
  {"data": {"name": "one"}, "mark": {"type": "text", "text": "Ne", "fontSize": 20, "align": "left", "baseline": "middle", "color": "black"},
   "encoding": {"x": {"datum": 5.99}, "y": {"datum": 3.405}}},
  {"data": {"name": "one"}, "mark": {"type": "text", "text": "log(ΔT)= -3.88 (±0.84) +0.92 (±0.13)M", "fontSize": 19.5, "align": "left", "baseline": "middle", "color": "black"},
   "encoding": {"x": {"datum": 5.78}, "y": {"datum": 3.55}}},
  {"data": {"name": "one"}, "mark": {"type": "text", "text": "log(ΔT)= -3.29 (±0.76) +0.78 (±0.11)M", "fontSize": 19.5, "align": "left", "baseline": "middle", "color": "black"},
   "encoding": {"x": {"datum": 5.78}, "y": {"datum": 3.21}}},
  {"data": {"name": "one"}, "mark": {"type": "text", "text": "Rikitake law", "fontSize": 17, "angle": 318, "align": "center", "baseline": "middle", "color": "black"},
   "encoding": {"x": {"datum": 5.56}, "y": {"datum": 3.845}}},
  {"data": {"name": "one"}, "mark": {"type": "text", "text": "(upper bound)", "fontSize": 17, "angle": 318, "align": "center", "baseline": "middle", "color": "black"},
   "encoding": {"x": {"datum": 5.76}, "y": {"datum": 3.72}}},
  {"data": {"name": "one"}, "mark": {"type": "text", "text": "Rikitake law for ground magnetic precursors", "fontSize": 17.5, "angle": 318, "align": "center", "baseline": "middle", "color": "black"},
   "encoding": {"x": {"datum": 6.9}, "y": {"datum": 1.73}}},
  {"data": {"name": "one"}, "mark": {"type": "text", "text": "(lower bound)", "fontSize": 17.5, "angle": 318, "align": "center", "baseline": "middle", "color": "black"},
   "encoding": {"x": {"datum": 6.4}, "y": {"datum": 1.08}}},
  {"data": {"name": "one"}, "mark": {"type": "square", "size": 729, "fill": "white", "stroke": "black", "strokeWidth": 1, "opacity": 1},
   "encoding": {"x": {"datum": 7.971}, "y": {"datum": 4.509}}},
  {"data": {"name": "one"}, "mark": {"type": "text", "text": "c", "fontSize": 19, "baseline": "middle", "color": "black", "dy": -1},
   "encoding": {"x": {"datum": 7.971}, "y": {"datum": 4.509}}},
  {"data": {"name": "one"}, "mark": {"type": "rule", "color": "#4472C4", "strokeWidth": 2.5},
   "encoding": {"x": {"datum": 4.6437}, "y": {"datum": 4.8125}, "y2": {"datum": -0.15625}}},
  {"data": {"name": "one"}, "mark": {"type": "rule", "color": "#4472C4", "strokeWidth": 2.5},
   "encoding": {"x": {"datum": -0.6614}, "x2": {"datum": 4.6437}, "y": {"datum": 2.3125}}}
 ]}
],
"spacing": 0, "bounds": "flush"
}
],
"spacing": 659,
"bounds": "flush"
}
